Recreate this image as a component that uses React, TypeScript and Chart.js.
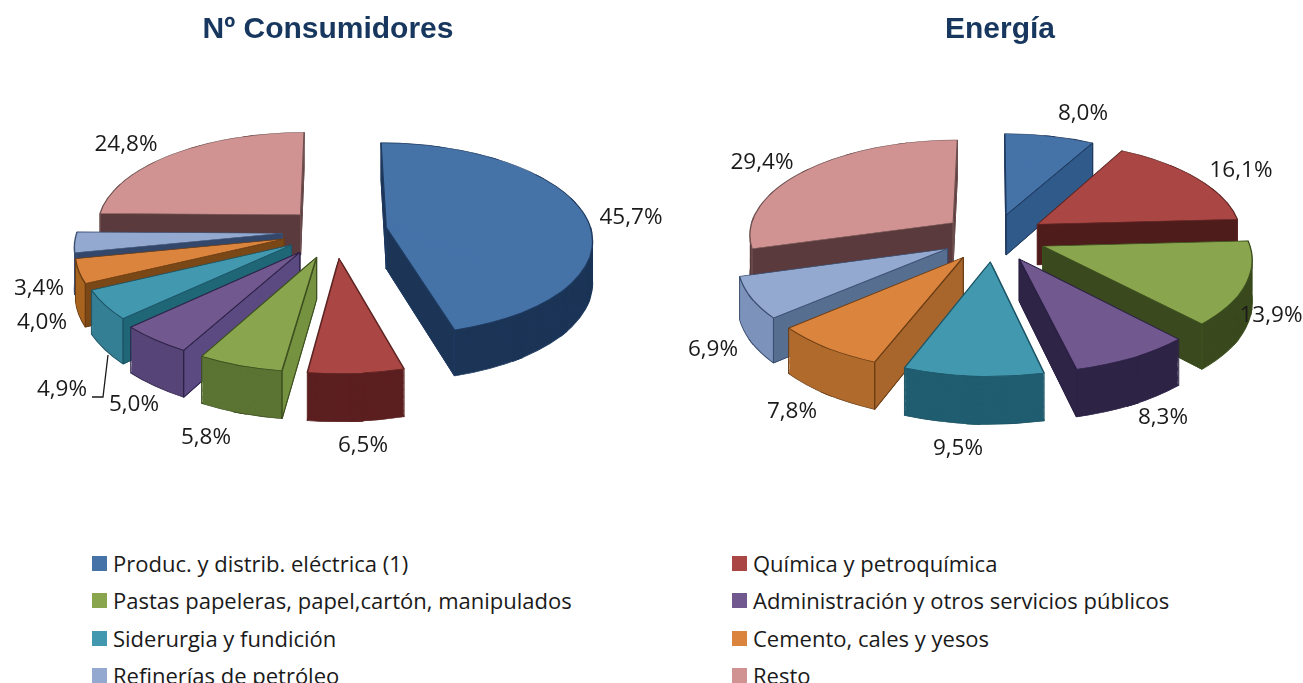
import React, { useEffect, useRef } from "react";
import { Chart, registerables } from "chart.js";

Chart.register(...registerables);

const categories = [
  "Produc. y distrib. eléctrica (1)",
  "Química y petroquímica",
  "Pastas papeleras, papel,cartón, manipulados",
  "Administración y otros servicios públicos",
  "Siderurgia y fundición",
  "Cemento, cales y yesos",
  "Refinerías de petróleo",
  "Resto",
];
const topColors = ["#4572A7", "#AA4643", "#89A54E", "#71588F", "#4198AF", "#DB843D", "#93A9CF", "#D19392"];
const edgeColors = ["#1f3a5f", "#5c2422", "#3d4f1f", "#2c2145", "#1d5566", "#6b3d14", "#3c4f72", "#6e5050"];

const consumerValues = [45.7, 6.5, 5.8, 5.0, 4.9, 4.0, 3.4, 24.8];
const energyValues = [8.0, 16.1, 13.9, 8.3, 9.5, 7.8, 6.9, 29.4];

const consumerExplode = [52, 57, 57, 56, 52, 53, 53, 50];
const energyExplode = [50, 52, 52, 52, 52, 52, 52, 52];

const consumerWalls = ["#1c3557", "#5c1f20", "#5b7433", "#574578", "#347f94", "#a8641f", "#7f95bd", "#5a3a3c"];
const consumerFaces = ["#1c3557", "#5c1f20", "#74923f", "#5b4a82", "#1f6677", "#7a4716", "#33476b", "#5a3a3c"];
const energyWalls = ["#2f5a8a", "#4f1c1c", "#3a4a1e", "#2e2446", "#205d70", "#b06b2d", "#7d93bb", "#5a3a3c"];
const energyFaces = ["#2f5a8a", "#4f1c1c", "#3a4a1e", "#2e2446", "#205d70", "#a8662c", "#566f90", "#5a3a3c"];

const consumerLabelCenters = [[631, 218], [363, 446], [206, 438], [134, 405], [62, 390], [42, 323], [39, 289], [126, 145]];
const energyLabelCenters = [[1083, 114], [1241, 171], [1271, 316], [1163, 418], [958, 449], [792, 412], [713, 350], [762, 163]];

const LABEL_FONT = "22.5px 'Open Sans'";
const TITLE_COLOR = "#17375E";
const MAX_STEP = (20 * Math.PI) / 180;

type View = {
  left: number; width: number; cx: number; cy: number; radius: number; tilt: number; persp: number; depth: number;
  explode: number[]; walls: string[]; faces: string[]; labels: number[][]; leader?: number[][];
};

const pie3d = {
  id: "pie3d",
  beforeDatasetDraw(chart: any, args: any, opts: any) {
    const v: View = opts.view;
    const ctx = chart.ctx;
    const meta = chart.getDatasetMeta(args.index);
    const project = (x: number, y: number, z: number) => {
      const w = 1 / (1 - (v.persp * y) / v.radius);
      return [v.cx - v.left + x * w, v.cy + (v.tilt * y + z) * w];
    };
    const order = meta.data
      .map((el: any, i: number) => ({ el, i, mid: (el.startAngle + el.endAngle) / 2 }))
      .sort((p: any, q: any) => Math.sin(p.mid) - Math.sin(q.mid));

    order.forEach(({ el, i, mid }: any) => {
      const R = el.outerRadius;
      const ax = Math.cos(mid) * v.explode[i];
      const ay = Math.sin(mid) * v.explode[i];
      const rim = (ang: number, z: number) => project(ax + R * Math.cos(ang), ay + R * Math.sin(ang), z);
      const steps = Math.max(1, Math.ceil((el.endAngle - el.startAngle) / MAX_STEP));
      const drawAt = (z: number, fill: string, border: number) => {
        const T0 = project(ax, ay, z);
        const saved = el.options;
        el.options = { ...saved, backgroundColor: fill, borderColor: edgeColors[i], borderWidth: border };
        for (let s = 0; s < steps; s++) {
          const a0 = el.startAngle + ((el.endAngle - el.startAngle) * s) / steps;
          const a1 = el.startAngle + ((el.endAngle - el.startAngle) * (s + 1)) / steps;
          const T1 = rim(a0, z), T2 = rim(a1, z);
          const ux = R * Math.cos(a0), uy = R * Math.sin(a0), vx = R * Math.cos(a1), vy = R * Math.sin(a1);
          const det = ux * vy - vx * uy;
          const Ux = T1[0] - T0[0], Uy = T1[1] - T0[1], Vx = T2[0] - T0[0], Vy = T2[1] - T0[1];
          const m11 = (Ux * vy - Vx * uy) / det;
          const m12 = (-Ux * vx + Vx * ux) / det;
          const m21 = (Uy * vy - Vy * uy) / det;
          const m22 = (-Uy * vx + Vy * ux) / det;
          ctx.save();
          ctx.transform(m11, m21, m12, m22, T0[0] - m11 * el.x - m12 * el.y, T0[1] - m21 * el.x - m22 * el.y);
          if (steps > 1) {
            // Each affine piece overlaps its neighbours; the wedge tip is pulled back so no seam shows near the apex.
            const pad = 0.03;
            const start = s === 0 ? a0 - 0.05 : a0 - pad;
            const end = s === steps - 1 ? a1 + 0.05 : a1 + pad;
            const back = (start + end) / 2 + Math.PI;
            ctx.beginPath();
            ctx.moveTo(el.x + 3 * Math.cos(back), el.y + 3 * Math.sin(back));
            ctx.arc(el.x, el.y, R + 6, start, end);
            ctx.closePath();
            ctx.clip();
          }
          el.draw(ctx);
          ctx.restore();
        }
        el.options = saved;
      };
      const pts = (z: number) => [project(ax, ay, z), rim(el.startAngle, z), rim(el.endAngle, z)];
      drawAt(v.depth, v.walls[i], 1.2);
      for (let z = v.depth - 1; z > 0; z -= 1) drawAt(z, v.walls[i], 0);
      const top = pts(0), bottom = pts(v.depth);
      const quad = (k: number) => {
        ctx.fillStyle = v.faces[i];
        ctx.strokeStyle = edgeColors[i];
        ctx.lineWidth = 1;
        ctx.beginPath();
        ctx.moveTo(top[0][0], top[0][1]);
        ctx.lineTo(top[k][0], top[k][1]);
        ctx.lineTo(bottom[k][0], bottom[k][1]);
        ctx.lineTo(bottom[0][0], bottom[0][1]);
        ctx.closePath();
        ctx.fill();
        ctx.stroke();
      };
      if (top[1][0] < top[0][0]) quad(1);
      if (top[2][0] > top[0][0]) quad(2);
      ctx.strokeStyle = edgeColors[i];
      ctx.lineWidth = 1;
      [0, 1, 2].forEach((k) => {
        ctx.beginPath();
        ctx.moveTo(top[k][0], top[k][1]);
        ctx.lineTo(bottom[k][0], bottom[k][1]);
        ctx.stroke();
      });
      drawAt(0, topColors[i], 1.4);
    });
    return false;
  },
  afterDraw(chart: any, _args: any, opts: any) {
    const v: View = opts.view;
    const ctx = chart.ctx;
    const values = chart.data.datasets[0].data as number[];
    ctx.save();
    ctx.font = LABEL_FONT;
    ctx.fillStyle = "#1a1a1a";
    ctx.textAlign = "center";
    ctx.textBaseline = "middle";
    values.forEach((val, i) => {
      ctx.fillText(val.toFixed(1).replace(".", ",") + "%", v.labels[i][0] - v.left, v.labels[i][1]);
    });
    if (v.leader) {
      ctx.strokeStyle = "#1a1a1a";
      ctx.lineWidth = 1.3;
      ctx.beginPath();
      v.leader.forEach((p, k) => (k ? ctx.lineTo(p[0] - v.left, p[1]) : ctx.moveTo(p[0] - v.left, p[1])));
      ctx.stroke();
    }
    ctx.restore();
  },
};

function Pie({ title, values, view }: { title: string; values: number[]; view: View }) {
  const ref = useRef<HTMLCanvasElement>(null);
  useEffect(() => {
    const chart = new Chart(ref.current!, {
      type: "pie",
      data: {
        labels: categories,
        datasets: [{ data: values, backgroundColor: topColors, borderWidth: 0 }],
      },
      options: {
        responsive: false,
        animation: false,
        radius: view.radius,
        layout: { padding: 0 },
        plugins: {
          legend: { display: false },
          tooltip: { enabled: false },
          title: {
            display: true,
            text: title,
            color: TITLE_COLOR,
            font: { family: "Liberation Sans", size: 30, weight: "bold" },
            padding: { top: 12, bottom: 10 },
          },
          pie3d: { view },
        },
      } as any,
      plugins: [pie3d],
    });
    return () => chart.destroy();
  }, []);
  return (
    <canvas
      ref={ref}
      width={view.width}
      height={520}
      style={{ position: "absolute", left: view.left, top: 0, width: view.width, height: 520 }}
    />
  );
}

const consumerView: View = {
  left: -12, width: 680, cx: 335, cy: 231, radius: 205, tilt: 0.465, persp: 0.115, depth: 41,
  explode: consumerExplode, walls: consumerWalls, faces: consumerFaces, labels: consumerLabelCenters,
  leader: [[92, 397], [103, 397], [108, 355]],
};
const energyView: View = {
  left: 680, width: 640, cx: 994, cy: 237, radius: 205, tilt: 0.465, persp: 0.115, depth: 41,
  explode: energyExplode, walls: energyWalls, faces: energyFaces, labels: energyLabelCenters,
};

const legendColumns = [92, 732];
const legendRows = [563, 600, 638, 675];

export default function App() {
  return (
    <div style={{ position: "absolute", left: 0, top: 0, width: 1303, height: 683, overflow: "hidden", background: "#fff" }}>
      <Pie title="Nº Consumidores" values={consumerValues} view={consumerView} />
      <Pie title="Energía" values={energyValues} view={energyView} />
      {categories.map((name, i) => {
        const x = legendColumns[i % 2];
        const y = legendRows[Math.floor(i / 2)];
        return (
          <div key={name} style={{ position: "absolute", left: x, top: y - 15, height: 30, display: "flex", alignItems: "center", whiteSpace: "nowrap" }}>
            <span style={{ width: 15, height: 15, background: topColors[i], marginRight: 6, display: "inline-block" }} />
            <span style={{ font: "22px 'Open Sans'", color: "#1a1a1a" }}>{name}</span>
          </div>
        );
      })}
    </div>
  );
}
